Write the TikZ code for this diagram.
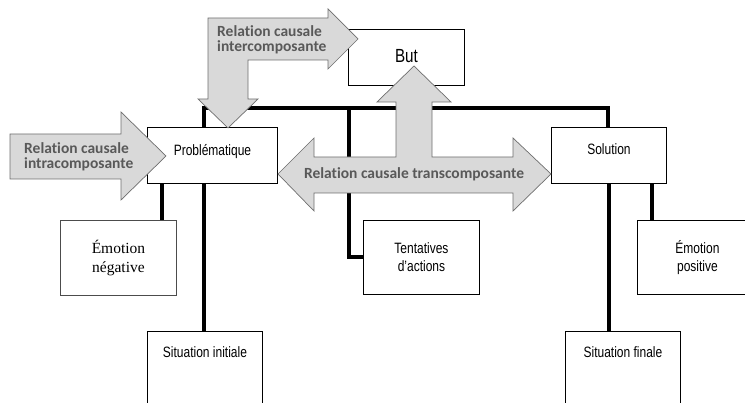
\documentclass[tikz,border=0pt]{standalone}
\usepackage{fontspec}
\newfontfamily\narrowfont[FakeStretch=0.8]{Liberation Sans}
\newfontfamily\calfont[Ligatures=NoCommon]{Carlito}
\newfontfamily\serfont{Liberation Serif}
\definecolor{arrowfill}{HTML}{D9D9D9}
\definecolor{arrowline}{HTML}{6E6E6E}
\definecolor{arrowtext}{HTML}{595959}
\begin{document}
\begin{tikzpicture}[x=1pt,y=-1pt,
  box/.style={draw=black,line width=0.9pt,fill=white,rectangle,anchor=north west,
    inner xsep=0pt,inner ysep=0pt,font=\narrowfont\fontsize{15}{18}\selectfont,align=center},
  conn/.style={line width=3.4pt,black,line join=miter},
  garrow/.style={draw=arrowline,line width=0.7pt,fill=arrowfill,line join=miter},
  gtext/.style={text=arrowtext,font=\calfont\bfseries\fontsize{15.5}{15.5}\selectfont,align=left,inner sep=0pt}]
\useasboundingbox (0,0) rectangle (745,403);
\begin{scope}
\clip (0,0) rectangle (745,403);
% junction coordinates
\coordinate (j1) at (204,108);
\coordinate (j2) at (608,108);
\coordinate (j3) at (349,108);
\coordinate (j4) at (349,257);
\coordinate (cN) at (162,0);
\coordinate (cF) at (609,0);
\coordinate (cP) at (652,0);
% boxes (placed first so that connectors can refer to them)
\node[box,minimum width=130pt,text height=28pt,text depth=28pt] (prob) at (147,127) {Problématique};
\node[box,minimum width=116pt,text height=33pt,text depth=23pt,font=\narrowfont\fontsize{19}{22}\selectfont] (but) at (348,29) {But};
\node[box,minimum width=115pt,text height=27pt,text depth=29pt] (sol) at (551,127) {Solution};
\node[box,draw=black!70,minimum width=116pt,minimum height=75pt,font=\serfont\fontsize{15.5}{19}\selectfont] (emoN) at (60,220) {Émotion\\négative};
\node[box,minimum width=116pt,minimum height=74pt] (tent) at (363,220) {Tentatives\\d’actions};
\node[box,minimum width=120pt,minimum height=74pt] (emoP) at (637,220) {Émotion\\positive};
\node[box,minimum width=115pt,text height=26pt,text depth=55pt] (sitI) at (147,331) {Situation initiale};
\node[box,minimum width=115pt,text height=26pt,text depth=55pt] (sitF) at (565,331) {Situation finale};
% connectors
\draw[conn] (sitI.north -| j1) -- (j1) -- (j2) -- (sol.north -| j2);
\draw[conn] (j3) -- (j4) -- (tent.west |- j4);
\draw[conn] (prob.south -| cN) -- (emoN.north -| cN);
\draw[conn] (sol.south -| cF) -- (sitF.north -| cF);
\draw[conn] (sol.south -| cP) -- (emoP.north -| cP);
% boxes again, over the connectors
\node[box,minimum width=130pt,text height=28pt,text depth=28pt] (probT) at (147,127) {Problématique};
\node[box,minimum width=115pt,text height=27pt,text depth=29pt] (solT) at (551,127) {Solution};
\node[box,minimum width=116pt,minimum height=74pt] (tentT) at (363,220) {Tentatives\\d’actions};
\node[box,minimum width=115pt,text height=26pt,text depth=55pt] (sitIT) at (147,331) {Situation initiale};
\node[box,minimum width=115pt,text height=26pt,text depth=55pt] (sitFT) at (565,331) {Situation finale};
\node[box,draw=black!70,minimum width=116pt,minimum height=75pt,font=\serfont\fontsize{15.5}{19}\selectfont] (emoNT) at (60,220) {Émotion\\négative};
\node[box,minimum width=120pt,minimum height=74pt] (emoPT) at (637,220) {Émotion\\positive};
% gray arrows
\draw[garrow] (10,134) -- (121,134) -- (121,112) -- (166,156) -- (121,200) -- (121,179) -- (10,179) -- cycle;
\draw[garrow] (358,39) -- (328,9) -- (328,18) -- (208,18) -- (208,99) -- (198,99) -- (228,128) -- (258,99) -- (248,99) -- (248,60) -- (328,60) -- (328,69) -- cycle;
\draw[garrow] (278,174) -- (314,138) -- (314,157) -- (396,157) -- (396,102) -- (377,102) -- (414,66) -- (451,102) -- (432,102) -- (432,157) -- (513,157) -- (513,138) -- (551,174) -- (513,211) -- (513,193) -- (314,193) -- (314,211) -- cycle;
\node[gtext,anchor=west] (tIntra) at (24,157) {Relation causale\\intracomposante};
\node[gtext,anchor=west] (tInter) at (217,40) {Relation causale\\intercomposante};
\node[gtext] (tTrans) at (414,174) {Relation causale transcomposante};
\end{scope}
\end{tikzpicture}
\end{document}
